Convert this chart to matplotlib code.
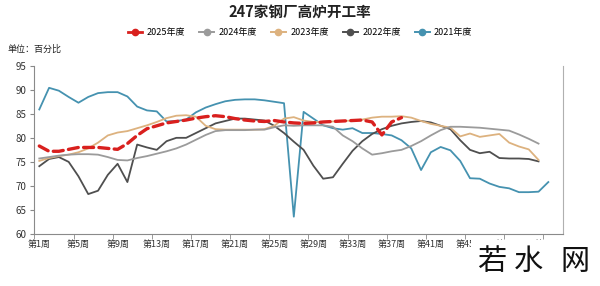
import numpy as np
import matplotlib
matplotlib.use('Agg')
import matplotlib.pyplot as plt
from matplotlib.lines import Line2D
from matplotlib.patches import Rectangle

plt.rcParams['font.family'] = ['Noto Sans CJK SC', 'DejaVu Sans']

# weekly blast furnace operating rate (%)
y2025 = [78.3, 77.2, 77.2, 77.6, 78.0, 78.0, 78.0, 77.8, 77.6, 78.8,
         80.5, 81.9, 82.5, 83.1, 83.4, 83.7, 84.1, 84.4, 84.6, 84.4,
         84.0, 83.7, 83.5, 83.4, 83.6, 83.3, 83.1, 83.0, 83.1, 83.3,
         83.4, 83.5, 83.6, 83.7, 83.3, 80.6, 83.3, 84.2]
y2024 = [75.7, 76.0, 76.3, 76.5, 76.6, 76.6, 76.5, 76.0, 75.4, 75.3,
         75.8, 76.2, 76.7, 77.2, 77.8, 78.6, 79.6, 80.6, 81.4, 81.6,
         81.6, 81.6, 81.7, 81.7, 82.2, 82.6, 82.5, 82.6, 82.6, 82.6,
         82.3, 80.5, 79.3, 77.8, 76.5, 76.8, 77.2, 77.5, 78.3, 79.3,
         80.5, 81.6, 82.3, 82.3, 82.2, 82.1, 81.9, 81.7, 81.5, 80.7,
         79.8, 78.8]
y2023 = [75.2, 75.8, 76.2, 76.5, 77.0, 77.8, 79.0, 80.5, 81.1, 81.4,
         82.0, 82.6, 83.3, 84.1, 84.6, 84.7, 84.4, 82.5, 81.8, 81.7,
         81.7, 81.7, 81.7, 81.8, 82.5, 84.0, 84.3, 83.6, 83.3, 83.3,
         83.4, 83.5, 83.6, 83.8, 84.2, 84.4, 84.4, 84.5, 84.2, 83.5,
         82.9, 82.5, 82.1, 80.3, 80.9, 80.2, 80.5, 80.8, 79.0, 78.2,
         77.6, 75.4]
y2022 = [74.1, 75.6, 76.0, 75.0, 72.0, 68.3, 69.0, 72.3, 74.6, 70.8,
         78.6, 78.0, 77.5, 79.3, 80.0, 80.0, 81.0, 82.0, 83.0, 83.5,
         84.0, 84.0, 83.8, 83.6, 82.5, 81.0, 79.2, 77.5, 74.2, 71.5,
         71.8, 74.6, 77.3, 79.3, 80.8, 81.8, 82.5, 83.0, 83.3, 83.5,
         83.2, 82.5, 81.8, 79.5, 77.5, 76.8, 77.1, 75.8, 75.7, 75.7,
         75.6, 75.1]
y2021 = [85.9, 90.4, 89.8, 88.5, 87.3, 88.5, 89.3, 89.5, 89.5, 88.6,
         86.5, 85.7, 85.5, 83.4, 83.5, 83.8, 85.3, 86.3, 87.0, 87.6,
         87.9, 88.0, 88.0, 87.8, 87.5, 87.2, 63.6, 85.4, 84.0, 82.6,
         82.0, 81.7, 82.0, 81.0, 81.0, 80.8, 80.5, 79.5, 77.8, 73.3,
         77.0, 78.1, 77.4, 75.2, 71.6, 71.5, 70.5, 69.8, 69.5, 68.7,
         68.7, 68.8, 70.8]

n_weeks = 54
tick_weeks = list(range(1, n_weeks, 4))
tick_labels = ['第%d周' % w for w in tick_weeks]

series = [
    ('2021年度', y2021, '#4592b0', 1.3, '-'),
    ('2022年度', y2022, '#4f4f4f', 1.3, '-'),
    ('2023年度', y2023, '#ddb27f', 1.3, '-'),
    ('2024年度', y2024, '#9b9b9b', 1.3, '-'),
    ('2025年度', y2025, '#d9201e', 2.4, (0, (3, 1.6))),
]

fig = plt.figure(figsize=(6, 2.86), dpi=100)
ax = fig.add_axes([34.4/600, 1-234/286, (563-34.4)/600, (234-65.7)/286])

for name, vals, c, lw, ls in series:
    weeks = np.arange(1, len(vals)+1)
    ax.plot(weeks, vals, color=c, lw=lw, ls=ls, solid_joinstyle='round',
            dash_capstyle='round', zorder=3 if name == '2025年度' else 2)

ax.set_xlim(0.5, n_weeks + 0.5)
ax.set_ylim(60, 95)
ax.set_yticks(range(60, 96, 5))
ax.set_xticks(tick_weeks)
ax.set_xticklabels(tick_labels)
ax.set_xticks(np.arange(0.5, n_weeks, 4), minor=True)
ax.tick_params(axis='x', which='major', length=0, pad=4, labelsize=6.5, colors='#333333')
ax.tick_params(axis='x', which='minor', length=3.5, color='#888888')
ax.tick_params(axis='y', length=3, color='#888888', labelsize=7, pad=3, labelcolor='#333333')

ax.spines['top'].set_visible(False)
for s in ['left', 'bottom']:
    ax.spines[s].set_color('#8a8a8a')
    ax.spines[s].set_linewidth(0.8)
ax.spines['right'].set_color('#b0b0b0')
ax.spines['right'].set_linewidth(0.8)

fig.text(0.5, 1-13/286, '247家钢厂高炉开工率', ha='center', va='center',
         fontsize=10.5, fontweight='bold', color='#222222')
fig.text(8/600, 1-49/286, '单位：百分比', ha='left', va='center', fontsize=6.5, color='#222222')

handles = [Line2D([], [], color=c, marker='o', markersize=4.5, lw=2 if n == '2025年度' else 1.4)
           for n, v, c, lw, ls in series[::-1]]
labels = [n for n, v, c, lw, ls in series[::-1]]
fig.legend(handles, labels, loc='center', bbox_to_anchor=(0.5, 1-33/286), ncol=5,
           frameon=False, fontsize=6.5, handlelength=1.6, handletextpad=0.5,
           columnspacing=1.6)

# watermark block in the lower right corner
fig.patches.append(Rectangle((471/600, 0), 129/600, 46/286, transform=fig.transFigure,
                             facecolor='white', edgecolor='none', zorder=10))
for ch, xc in zip(['若', '水', '网'], [492, 528, 575]):
    fig.text(xc/600, 1-262/286, ch, ha='center', va='center', fontsize=21,
             color='#111111', zorder=11)

fig.savefig('out.png', dpi=100)
